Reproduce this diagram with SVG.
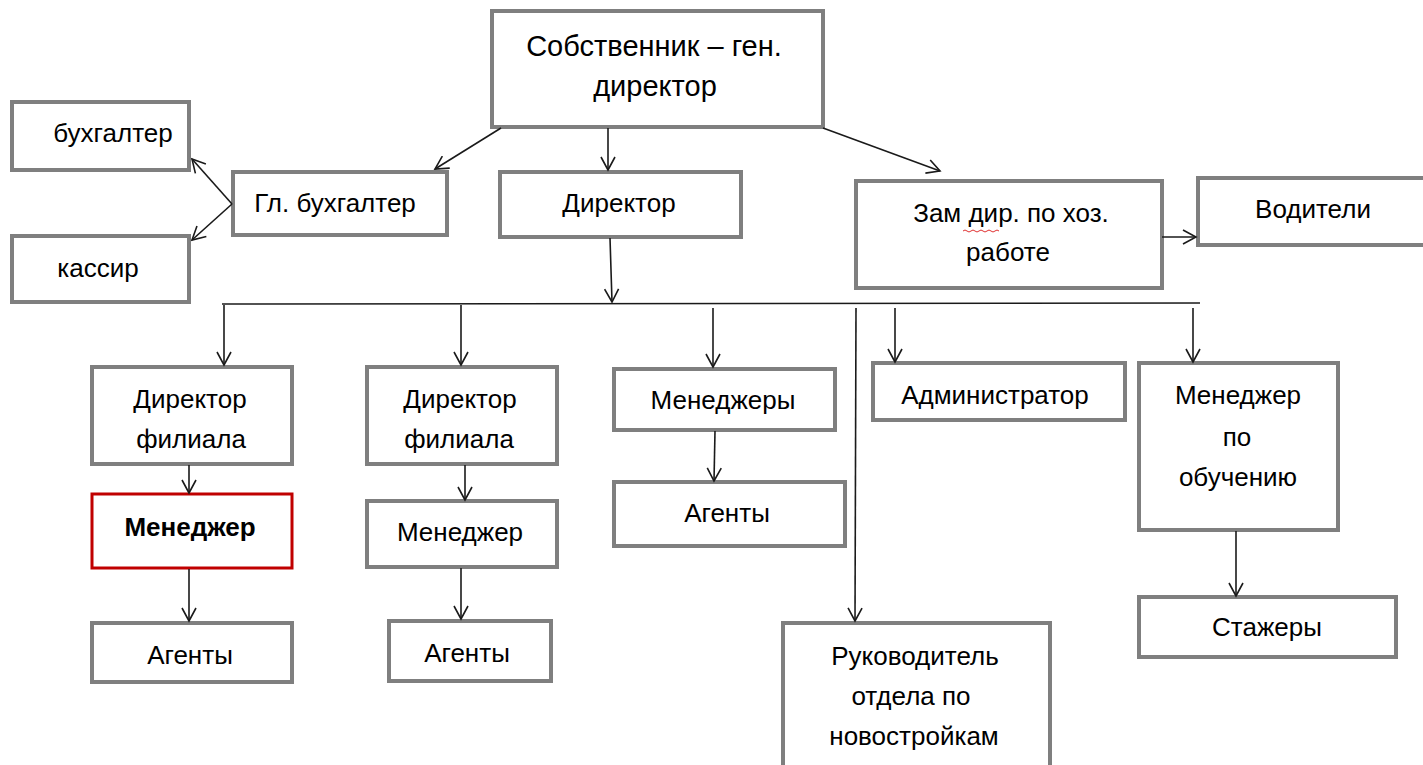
<svg xmlns="http://www.w3.org/2000/svg" width="1423" height="765" viewBox="0 0 1423 765">
<style>
.box{fill:#fff;stroke:#7f7f7f;stroke-width:4}
.red{fill:#fff;stroke:#c00000;stroke-width:3}
.t{font-family:"Liberation Sans",Arial,sans-serif;font-size:26px;fill:#000;text-anchor:middle}
.big{font-size:29px}
.b{font-weight:bold}
.c{fill:none;stroke:#1a1a1a;stroke-width:1.6}
</style>
<defs>
<marker id="a" markerWidth="16" markerHeight="16" refX="14" refY="8" orient="auto" markerUnits="userSpaceOnUse">
<path d="M1,1 L14,8 L1,15" fill="none" stroke="#1a1a1a" stroke-width="1.6"/>
</marker>
</defs>
<g id="n-owner"><rect class="box" x="492" y="11" width="331" height="116"/><text class="t big" x="654" y="56">Собственник – ген.</text><text class="t big" x="655" y="96">директор</text></g>
<g id="n-buh"><rect class="box" x="12" y="102" width="177" height="68"/><text class="t" x="113" y="142">бухгалтер</text></g>
<g id="n-kass"><rect class="box" x="12" y="236" width="177" height="66"/><text class="t" x="98" y="277">кассир</text></g>
<g id="n-glbuh"><rect class="box" x="233" y="172" width="214" height="63"/><text class="t" x="335" y="212">Гл. бухгалтер</text></g>
<g id="n-dir"><rect class="box" x="500" y="172" width="241" height="65"/><text class="t" x="619" y="212">Директор</text></g>
<g id="n-zam"><rect class="box" x="856" y="181" width="306" height="107"/><text class="t" x="1011" y="222">Зам дир. по хоз.</text><path d="M963,231 q2,-2 4,0 t4,0 t4,0 t4,0 t4,0 t4,0 t4,0 t4,0 t4,0" fill="none" stroke="#e03030" stroke-width="1"/><text class="t" x="1008" y="261">работе</text></g>
<g id="n-vod"><rect class="box" x="1198" y="178" width="227" height="67"/><text class="t" x="1313" y="218">Водители</text></g>
<g id="n-df1"><rect class="box" x="92" y="367" width="200" height="97"/><text class="t" x="190" y="408">Директор</text><text class="t" x="191" y="448">филиала</text></g>
<g id="n-df2"><rect class="box" x="367" y="367" width="190" height="97"/><text class="t" x="460" y="408">Директор</text><text class="t" x="459" y="448">филиала</text></g>
<g id="n-mgrs"><rect class="box" x="614" y="369" width="221" height="61"/><text class="t" x="723" y="409">Менеджеры</text></g>
<g id="n-admin"><rect class="box" x="873" y="363" width="252" height="57"/><text class="t" x="995" y="404">Администратор</text></g>
<g id="n-mgrob"><rect class="box" x="1139" y="363" width="199" height="167"/><text class="t" x="1238" y="404">Менеджер</text><text class="t" x="1237" y="446">по</text><text class="t" x="1238" y="486">обучению</text></g>
<g id="n-mgr1"><rect class="red" x="92" y="494" width="200" height="74"/><text class="t b" x="190" y="536">Менеджер</text></g>
<g id="n-mgr2"><rect class="box" x="367" y="501" width="190" height="66"/><text class="t" x="460" y="541">Менеджер</text></g>
<g id="n-ag3"><rect class="box" x="614" y="482" width="231" height="64"/><text class="t" x="727" y="522">Агенты</text></g>
<g id="n-ag1"><rect class="box" x="92" y="623" width="200" height="59"/><text class="t" x="190" y="664">Агенты</text></g>
<g id="n-ag2"><rect class="box" x="389" y="621" width="162" height="60"/><text class="t" x="467" y="662">Агенты</text></g>
<g id="n-ruk"><rect class="box" x="783" y="623" width="267" height="145"/><text class="t" x="915" y="665">Руководитель</text><text class="t" x="911" y="705">отдела по</text><text class="t" x="914" y="745">новостройкам</text></g>
<g id="n-stazh"><rect class="box" x="1139" y="597" width="257" height="60"/><text class="t" x="1267" y="636">Стажеры</text></g>
<g id="connectors">
<line class="c" x1="501" y1="128" x2="435" y2="169" marker-end="url(#a)"/>
<line class="c" x1="608" y1="128" x2="608" y2="170" marker-end="url(#a)"/>
<line class="c" x1="823" y1="128" x2="940" y2="171" marker-end="url(#a)"/>
<line class="c" x1="232" y1="204" x2="192" y2="159" marker-end="url(#a)"/>
<line class="c" x1="232" y1="204" x2="192" y2="240" marker-end="url(#a)"/>
<line class="c" x1="1162" y1="237" x2="1196" y2="237" marker-end="url(#a)"/>
<line class="c" x1="610" y1="238" x2="612" y2="302" marker-end="url(#a)"/>
<line class="c" x1="222" y1="304" x2="1200" y2="303"/>
<line class="c" x1="224" y1="305" x2="224" y2="365" marker-end="url(#a)"/>
<line class="c" x1="461" y1="305" x2="461" y2="365" marker-end="url(#a)"/>
<line class="c" x1="713" y1="308" x2="713" y2="367" marker-end="url(#a)"/>
<line class="c" x1="856" y1="308" x2="855" y2="621" marker-end="url(#a)"/>
<line class="c" x1="895" y1="308" x2="895" y2="362" marker-end="url(#a)"/>
<line class="c" x1="1193" y1="308" x2="1193" y2="362" marker-end="url(#a)"/>
<line class="c" x1="189" y1="465" x2="189" y2="493" marker-end="url(#a)"/>
<line class="c" x1="189" y1="569" x2="189" y2="621" marker-end="url(#a)"/>
<line class="c" x1="465" y1="465" x2="465" y2="500" marker-end="url(#a)"/>
<line class="c" x1="461" y1="568" x2="461" y2="619" marker-end="url(#a)"/>
<line class="c" x1="715" y1="431" x2="714" y2="481" marker-end="url(#a)"/>
<line class="c" x1="1236" y1="531" x2="1236" y2="596" marker-end="url(#a)"/>
</g>
</svg>
